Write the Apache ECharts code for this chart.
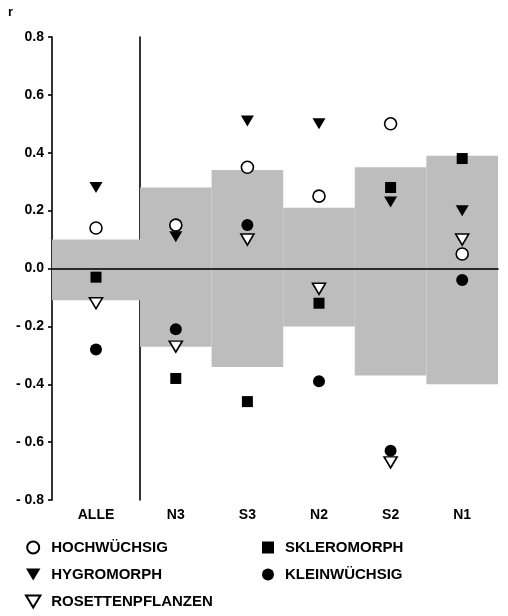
<!DOCTYPE html>
<html>
<head>
<meta charset="utf-8">
<script src="https://cdn.jsdelivr.net/npm/echarts@6/dist/echarts.min.js"></script>
<style>
  html, body { margin: 0; padding: 0; background: #fff; }
  #chart { width: 508px; height: 616px; }
</style>
</head>
<body>
<div id="chart"></div>
<script>
// Kategorien: erste Spalte "ALLE", danach die fünf Standorte
const categories = ['ALLE', 'N3', 'S3', 'N2', 'S2', 'N1'];

// Korrelationen r je Gruppe
const hochwuechsig = [0.14, 0.15, 0.35, 0.25, 0.50, 0.05];
const hygromorph = [0.28, 0.11, 0.51, 0.50, 0.23, 0.20];
const rosettenpflanzen = [-0.12, -0.27, 0.10, -0.07, -0.67, 0.10];
const skleromorph = [-0.03, -0.38, -0.46, -0.12, 0.28, 0.38];
const kleinwuechsig = [-0.28, -0.21, 0.15, -0.39, -0.63, -0.04];

// Grauer Bereich (Signifikanzgrenzen)
const bandUpper = [0.10, 0.28, 0.34, 0.21, 0.35, 0.39];
const bandLower = [-0.11, -0.27, -0.34, -0.20, -0.37, -0.40];

const FONT = 'Liberation Sans';
const SHADE = '#bdbdbd';
const triDown = 'path://M0,0 L12,0 L6,10 Z';
const square = 'path://M0,0 L10,0 L10,10 L0,10 Z';

const groups = [
  { name: 'HOCHWÜCHSIG', data: hochwuechsig, symbol: 'circle', size: 12, style: { color: '#fff', borderColor: '#000', borderWidth: 1.6, opacity: 1 } },
  { name: 'HYGROMORPH', data: hygromorph, symbol: triDown, size: [13, 11], style: { color: '#000', opacity: 1 } },
  { name: 'ROSETTENPFLANZEN', data: rosettenpflanzen, symbol: triDown, size: [13, 11], style: { color: '#fff', borderColor: '#000', borderWidth: 1.6, opacity: 1 } },
  { name: 'SKLEROMORPH', data: skleromorph, symbol: square, size: 11, style: { color: '#000', opacity: 1 } },
  { name: 'KLEINWÜCHSIG', data: kleinwuechsig, symbol: 'circle', size: 12, style: { color: '#000', opacity: 1 } }
];

// Teil 0 = ALLE, Teil 1 = Standorte
function part(arr, i) {
  return i === 0 ? arr.slice(0, 1) : arr.slice(1);
}

const chart = echarts.init(document.getElementById('chart'));

const axisLine = { show: true, lineStyle: { color: '#000', width: 1.6 } };

const xAxis = [0, 1].map(i => ({
  type: 'category',
  gridIndex: i,
  data: part(categories, i),
  axisLine: axisLine,
  axisTick: { show: true, alignWithLabel: true, length: 4, lineStyle: { color: '#000', width: 1.6 } },
  axisLabel: { color: '#000', fontFamily: FONT, fontWeight: 'bold', fontSize: 14, margin: 8 },
  splitLine: { show: false }
}));

const yAxis = [0, 1].map(i => ({
  type: 'value',
  gridIndex: i,
  min: -0.8,
  max: 0.8,
  interval: 0.2,
  axisLine: axisLine,
  axisTick: { show: i === 0, length: 4, lineStyle: { color: '#000', width: 1.6 } },
  axisLabel: {
    show: i === 0,
    color: '#000',
    fontFamily: FONT,
    fontWeight: 'bold',
    fontSize: 14,
    margin: 8,
    formatter: function (v) {
      v = Math.round(v * 10) / 10;
      return v < 0 ? '- ' + Math.abs(v).toFixed(1) : v.toFixed(1);
    }
  },
  splitLine: { show: false }
}));

const series = [];
[0, 1].forEach(i => {
  // schattierter Bereich als Balken über die volle Kategoriebreite
  series.push({
    type: 'bar',
    xAxisIndex: i,
    yAxisIndex: i,
    data: part(bandUpper, i),
    barWidth: '100%',
    barGap: '-100%',
    itemStyle: { color: SHADE },
    silent: true,
    z: 1
  });
  series.push({
    type: 'bar',
    xAxisIndex: i,
    yAxisIndex: i,
    data: part(bandLower, i),
    barWidth: '100%',
    barGap: '-100%',
    itemStyle: { color: SHADE },
    silent: true,
    z: 1,
    markLine: {
      silent: true,
      symbol: 'none',
      label: { show: false },
      lineStyle: { color: '#000', width: 1.6, type: 'solid' },
      data: [{ yAxis: 0 }]
    }
  });
  groups.forEach(g => {
    series.push({
      name: g.name,
      type: 'scatter',
      xAxisIndex: i,
      yAxisIndex: i,
      data: part(g.data, i),
      symbol: g.symbol,
      symbolSize: g.size,
      itemStyle: g.style,
      z: 5
    });
  });
});

const legendText = { color: '#000', fontFamily: FONT, fontWeight: 'bold', fontSize: 15 };

const option = {
  animation: false,
  backgroundColor: '#fff',
  grid: [
    { left: 52, top: 37, width: 88, height: 463 },
    { left: 140, top: 37, width: 358, height: 463 }
  ],
  xAxis: xAxis,
  yAxis: yAxis,
  legend: [
    {
      orient: 'vertical',
      left: 25,
      top: 540,
      height: 76,
      padding: 0,
      itemWidth: 26,
      itemHeight: 12,
      itemGap: 12,
      selectedMode: false,
      textStyle: legendText,
      data: ['HOCHWÜCHSIG', 'HYGROMORPH', 'ROSETTENPFLANZEN']
    },
    {
      orient: 'vertical',
      left: 262,
      top: 540,
      height: 76,
      padding: 0,
      itemWidth: 24,
      itemHeight: 12,
      itemGap: 12,
      selectedMode: false,
      textStyle: legendText,
      data: ['SKLEROMORPH', 'KLEINWÜCHSIG']
    }
  ],
  graphic: [
    { type: 'text', left: 8, top: 6, style: { text: 'r', font: 'bold 13px ' + FONT, fill: '#000' } }
  ],
  series: series
};

chart.setOption(option);
</script>
</body>
</html>
